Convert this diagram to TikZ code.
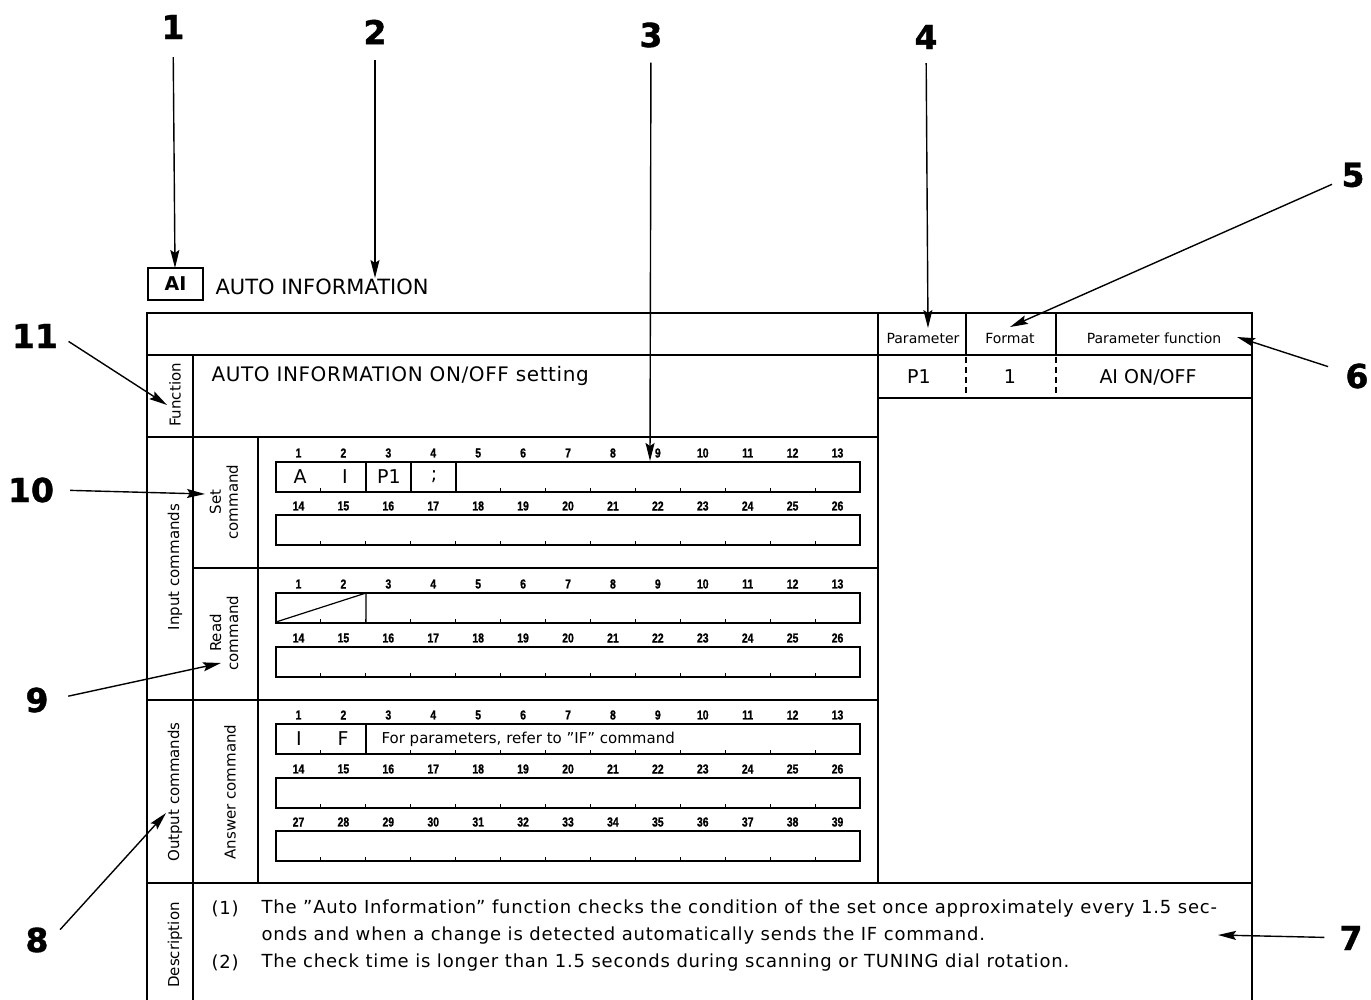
\documentclass[tikz,border=0pt]{standalone}
\usepackage{fontspec}
\setmainfont{DejaVu Sans}
\newfontfamily\numfont[FakeStretch=0.8,FakeBold=1]{Liberation Sans}
\newfontfamily\callfont[FakeBold=1.2]{DejaVu Sans}
\usepackage{tikz}
\usetikzlibrary{arrows.meta}

\tikzset{
	callout/.style={font=\callfont\bfseries\fontsize{33}{33}\selectfont, inner sep=2pt},
	callarrow/.style={-{Stealth[length=18pt,width=9pt,inset=3pt]}, line width=1.4pt},
	frame/.style={line width=1.6pt},
	slot/.style={line width=1.2pt},
	tick/.style={line width=1pt},
	slotnum/.style={font=\numfont\bfseries\fontsize{13}{13}\selectfont, inner sep=0pt},
	sidelabel/.style={rotate=90, font=\fontsize{15}{17}\selectfont, align=center},
	entry/.style={font=\fontsize{19}{19}\selectfont, inner sep=0pt},
	headtext/.style={font=\fontsize{14}{14}\selectfont},
	desctext/.style={anchor=west, font=\fontsize{18}{18}\selectfont\addfontfeature{LetterSpace=4.5}},
}

% one line of 13 slots: #1 = top of the line, #2 = first slot number
\newcommand{\slotrow}[2]{%
	\foreach \i in {0,...,12}{%
		\pgfmathtruncatemacro{\n}{#2+\i}
		\node[slotnum] (num-#1-\n) at ({298.5+44.92*\i},#1-9) {\n};
	}
	\draw[slot] (276,#1) rectangle (860,#1+30);
	\foreach \i in {1,...,12}
		\draw[tick] ({276+44.92*\i},#1+30) -- ++(0,-4);
}

\begin{document}
\begin{tikzpicture}[x=1pt, y=-1pt]
\useasboundingbox (0,0) rectangle (1371,1000);

% title
\node[draw, line width=1.2pt, minimum width=55pt, minimum height=32pt, inner sep=0pt,
	font=\fontsize{19}{19}\selectfont\bfseries] (ai) at (175.5,284) {AI};
\node[anchor=west, font=\fontsize{21}{21}\selectfont] (title) at (212,287) {AUTO INFORMATION};

% frame of the sheet
\draw[frame] (147,1000) -- (147,313) -- (1252,313) -- (1252,1000);
\draw[frame] (147,355) -- (1252,355);
\draw[frame] (878,313) -- (878,883);
\draw[frame] (966,313) -- (966,355) (1056,313) -- (1056,355);
\draw[frame, line width=1.3pt, dash pattern=on 6pt off 4pt] (966,357) -- (966,398) (1056,357) -- (1056,398);
\draw[frame] (878,398) -- (1252,398);
\draw[frame] (147,437) -- (878,437);
\draw[frame] (193,355) -- (193,1000);
\draw[frame] (258,437) -- (258,883);
\draw[frame] (193,568) -- (878,568);
\draw[frame] (147,700) -- (878,700);
\draw[frame] (147,883) -- (1252,883);

% parameter table
\node[headtext] (hpar) at (923,338) {Parameter};
\node[headtext] (hfmt) at (1010,338) {Format};
\node[headtext] (hfun) at (1154,338) {Parameter function};
\node[entry] (vpar) at (919,377) {P1};
\node[entry] (vfmt) at (1010,377) {1};
\node[entry] (vfun) at (1148,377) {AI ON/OFF};

% side labels
\node[sidelabel] (fn) at (175,395) {Function};
\node[sidelabel] (inp) at (175,567) {Input commands};
\node[sidelabel] (setc) at (224,502) {Set\\command};
\node[sidelabel] (readc) at (224,633) {Read\\command};
\node[sidelabel] (outp) at (175,792) {Output commands};
\node[sidelabel] (ansc) at (230,792) {Answer command};
\node[sidelabel] (desc) at (175,945) {Description};

\node[anchor=west, font=\fontsize{20}{20}\selectfont\addfontfeature{LetterSpace=3}] (funtext) at (208,376) {AUTO INFORMATION ON/OFF setting};

% set command
\slotrow{462}{1}
\slotrow{515}{14}
\draw[slot] (366,462) -- (366,492) (411,462) -- (411,492) (456,462) -- (456,492);
\node[entry] (sa) at (300,477) {A};
\node[entry] (si) at (345,477) {I};
\node[entry] (sp) at (389,477) {P1};
\node[entry] (ss) at (434,477) {;};

% read command
\slotrow{593}{1}
\slotrow{647}{14}
\draw[slot] (276,622) -- (366,593) -- (366,622);

% answer command
\slotrow{724}{1}
\slotrow{778}{14}
\slotrow{831}{27}
\draw[slot] (366,724) -- (366,754);
\node[entry] (ai1) at (299,739) {I};
\node[entry] (af) at (343,739) {F};
\node[anchor=west, font=\fontsize{15}{15}\selectfont] (aref) at (378,739) {For parameters, refer to ''IF'' command};

% description
\node[desctext] (d1) at (208,909) {(1)};
\node[desctext] (d1a) at (258,909) {The ''Auto Information'' function checks the condition of the set once approximately every 1.5 sec-};
\node[desctext] (d1b) at (258,936) {onds and when a change is detected automatically sends the IF command.};
\node[desctext] (d2) at (208,963) {(2)};
\node[desctext] (d2a) at (258,963) {The check time is longer than 1.5 seconds during scanning or TUNING dial rotation.};

% callouts
\node[callout] (n1) at (173,27) {1};
\node[callout] (n2) at (375,32) {2};
\node[callout] (n3) at (651,35) {3};
\node[callout] (n4) at (926,37) {4};
\node[callout] (n5) at (1353,175) {5};
\node[callout] (n6) at (1357,376) {6};
\node[callout] (n7) at (1351,938) {7};
\node[callout] (n8) at (37,940) {8};
\node[callout] (n9) at (37,700) {9};
\node[callout] (n10) at (31,490) {10};
\node[callout] (n11) at (35,336) {11};

\coordinate (t1) at (175,268);
\coordinate (t2) at (375,278);
\coordinate (t3) at (650,461);
\coordinate (t4) at (928,328);
\coordinate (t5) at (1010,327);
\coordinate (t6) at (1237,337);
\coordinate (t7) at (1218,935);
\coordinate (t8) at (166,813);
\coordinate (t9) at (221,663);
\coordinate (t10) at (205,494);
\coordinate (t11) at (167,405);

\draw[callarrow, shorten <=16pt] (n1) -- (t1);
\draw[callarrow, shorten <=14pt] (n2) -- (t2);
\draw[callarrow, shorten <=13pt] (n3) -- (t3);
\draw[callarrow, shorten <=12pt] (n4) -- (t4);
\draw[callarrow, shorten <=8pt] (n5) -- (t5);
\draw[callarrow, shorten <=16pt] (n6) -- (t6);
\draw[callarrow, shorten <=13pt] (n7) -- (t7);
\draw[callarrow, shorten <=14pt] (n8.east) -- (t8);
\draw[callarrow, shorten <=18pt] (n9.east) -- (t9);
\draw[callarrow, shorten <=14pt] (n10.east) -- (t10);
\draw[callarrow, shorten <=10pt] (n11.east) -- (t11);
\end{tikzpicture}
\end{document}
